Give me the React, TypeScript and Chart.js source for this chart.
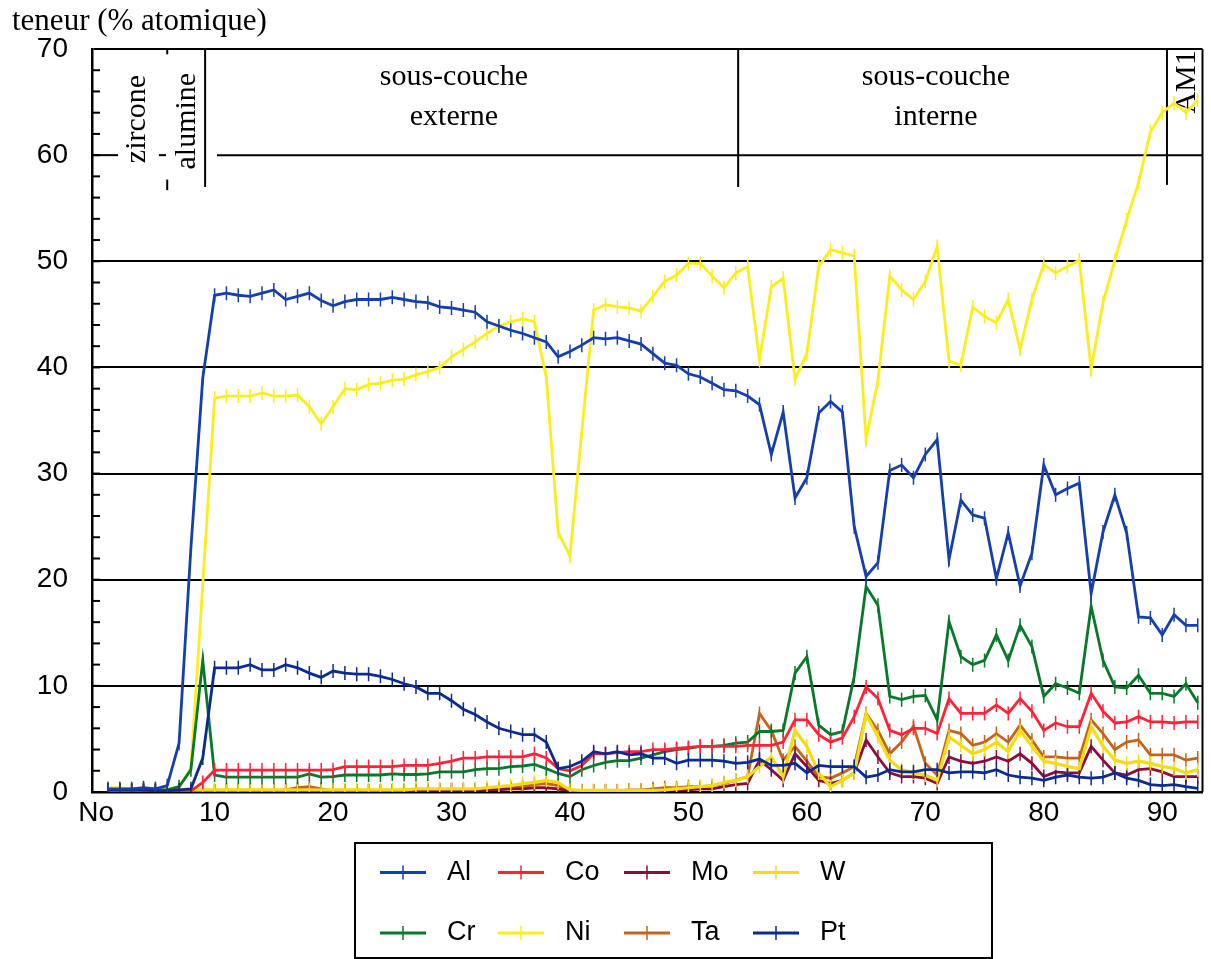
import React, { useEffect, useRef } from "react";
import { Chart, registerables } from "chart.js";

Chart.register(...registerables);

// point numbers along the profile (No)
const pointNo = Array.from({ length: 93 }, (_, i) => i + 1);
const xTickValues = [0, 10, 20, 30, 40, 50, 60, 70, 80, 90];
const yTickValues = [0, 10, 20, 30, 40, 50, 60, 70];

const al = [
  0.3, 0.3, 0.3, 0.4, 0.3, 0.6, 4.6, 23, 39, 46.8,
  47.0, 46.8, 46.7, 47.0, 47.3, 46.4, 46.7, 47.0, 46.3, 45.8,
  46.2, 46.4, 46.4, 46.4, 46.6, 46.4, 46.2, 46.1, 45.7, 45.6,
  45.4, 45.2, 44.3, 43.9, 43.5, 43.2, 42.8, 42.4, 41.0, 41.5,
  42.1, 42.8, 42.7, 42.8, 42.5, 42.2, 41.3, 40.4, 40.2, 39.4,
  39.1, 38.5, 37.9, 37.8, 37.3, 36.5, 31.8, 35.8, 27.7, 29.6,
  35.7, 36.8, 35.8, 25.0, 20.3, 21.6, 30.3, 30.8, 29.6, 31.8,
  33.2, 21.9, 27.5, 26.1, 25.8, 20.1, 24.4, 19.4, 22.5, 30.8,
  28.0, 28.6, 29.1, 18.7, 24.5, 28.0, 24.4, 16.5, 16.4, 14.8,
  16.7, 15.7, 15.7,
];
const pt = [
  0.2, 0.2, 0.2, 0.2, 0.1, 0.1, 0.2, 0.3, 3.2, 11.7,
  11.7, 11.7, 12.0, 11.5, 11.5, 12.0, 11.7, 11.2, 10.8, 11.4,
  11.2, 11.1, 11.1, 10.9, 10.6, 10.2, 9.9, 9.3, 9.3, 8.6,
  7.8, 7.3, 6.6, 6.0, 5.7, 5.4, 5.4, 4.7, 2.2, 2.4,
  2.9, 3.8, 3.6, 3.8, 3.5, 3.6, 3.2, 3.2, 2.7, 3.0,
  3.0, 3.0, 2.9, 2.7, 2.8, 3.1, 2.5, 2.5, 2.7, 1.8,
  2.5, 2.4, 2.4, 2.4, 1.4, 1.6, 2.1, 1.9, 1.9, 2.1,
  2.1, 1.8, 1.9, 1.9, 1.8, 2.1, 1.6, 1.4, 1.3, 1.1,
  1.4, 1.6, 1.4, 1.3, 1.4, 1.8, 1.3, 1.1, 0.7, 0.6,
  0.7, 0.5, 0.35,
];
const ni = [
  0.4, 0.4, 0.3, 0.3, 0.3, 0.3, 0.4, 2.3, 19.5, 37.1,
  37.3, 37.3, 37.3, 37.6, 37.3, 37.3, 37.4, 36.3, 34.7, 36.3,
  38.0, 37.9, 38.4, 38.5, 38.8, 38.9, 39.3, 39.6, 40.0, 41.0,
  41.7, 42.4, 43.2, 43.9, 44.3, 44.6, 44.3, 39.1, 24.5, 22.2,
  34.0, 45.4, 45.9, 45.7, 45.6, 45.3, 46.7, 48.1, 48.7, 49.8,
  49.8, 48.6, 47.5, 48.9, 49.5, 40.7, 47.6, 48.4, 38.9, 41.3,
  49.5, 51.1, 50.8, 50.5, 33.2, 38.8, 48.6, 47.3, 46.4, 48.1,
  51.4, 40.6, 40.2, 45.7, 44.8, 44.2, 46.4, 41.7, 46.4, 49.7,
  48.9, 49.5, 50.1, 39.8, 46.1, 50.1, 53.9, 57.4, 62.2, 64.0,
  64.9, 64.0, 65.2,
];
const cr = [
  0.2, 0.2, 0.2, 0.2, 0.2, 0.2, 0.5, 2.1, 12.4, 1.6,
  1.4, 1.4, 1.4, 1.4, 1.4, 1.4, 1.4, 1.7, 1.4, 1.45,
  1.6, 1.6, 1.6, 1.6, 1.7, 1.65, 1.65, 1.7, 1.9, 1.9,
  1.9, 2.1, 2.2, 2.2, 2.4, 2.45, 2.6, 2.2, 1.75, 1.45,
  2.1, 2.5, 2.8, 2.95, 2.95, 3.2, 3.5, 3.8, 4.0, 4.1,
  4.3, 4.3, 4.4, 4.6, 4.7, 5.7, 5.7, 5.8, 11.2, 12.75,
  6.3, 5.4, 5.7, 10.9, 19.35, 17.6, 9.0, 8.7, 9.0, 9.1,
  6.8, 16.05, 12.75, 12.0, 12.4, 14.8, 12.4, 15.7, 13.7, 9.0,
  10.2, 9.8, 9.3, 17.5, 12.4, 9.9, 9.8, 11.0, 9.3, 9.3,
  9.0, 10.2, 8.4,
];
const co = [
  0.05, 0.05, 0.05, 0.05, 0.05, 0.05, 0.05, 0.1, 0.9, 2.07,
  2.07, 2.07, 2.07, 2.07, 2.07, 2.07, 2.07, 2.07, 2.07, 2.1,
  2.4, 2.4, 2.4, 2.4, 2.4, 2.5, 2.5, 2.5, 2.7, 2.9,
  3.2, 3.2, 3.3, 3.3, 3.3, 3.3, 3.6, 3.2, 2.2, 2.0,
  2.5, 3.6, 3.6, 3.7, 3.8, 3.8, 4.0, 4.0, 4.1, 4.2,
  4.3, 4.3, 4.3, 4.3, 4.4, 4.4, 4.4, 4.7, 6.8, 6.8,
  5.4, 4.7, 5.1, 7.1, 9.9, 8.8, 5.8, 5.4, 6.0, 6.0,
  5.5, 8.8, 7.4, 7.4, 7.4, 8.2, 7.4, 8.8, 7.6, 5.8,
  6.5, 6.15, 6.15, 9.3, 7.6, 6.5, 6.6, 7.1, 6.6, 6.6,
  6.5, 6.6, 6.6,
];
const ta = [
  0.1, 0.1, 0.1, 0.1, 0.1, 0.1, 0.1, 0.1, 0.1, 0.1,
  0.1, 0.1, 0.1, 0.1, 0.1, 0.2, 0.4, 0.5, 0.3, 0.1,
  0.1, 0.1, 0.1, 0.1, 0.1, 0.2, 0.2, 0.2, 0.2, 0.2,
  0.2, 0.2, 0.2, 0.3, 0.4, 0.5, 0.7, 0.8, 0.6, 0.2,
  0.1, 0.1, 0.1, 0.1, 0.2, 0.2, 0.3, 0.4, 0.4, 0.5,
  0.5, 0.6, 0.8, 1.1, 1.45, 7.4, 5.8, 3.0, 4.3, 2.9,
  1.45, 1.3, 1.8, 2.4, 7.4, 5.8, 3.6, 4.7, 6.2, 2.7,
  1.6, 5.8, 5.5, 4.4, 4.7, 5.5, 4.7, 6.3, 4.9, 3.3,
  3.3, 3.2, 3.2, 6.8, 5.5, 4.0, 4.7, 4.9, 3.5, 3.5,
  3.5, 3.0, 3.2,
];
const w = [
  0.2, 0.2, 0.2, 0.2, 0.2, 0.2, 0.2, 0.2, 0.2, 0.2,
  0.2, 0.2, 0.2, 0.2, 0.2, 0.2, 0.2, 0.2, 0.2, 0.2,
  0.2, 0.2, 0.2, 0.2, 0.2, 0.2, 0.3, 0.3, 0.3, 0.3,
  0.3, 0.3, 0.4, 0.5, 0.6, 0.8, 0.9, 1.1, 0.9, 0.2,
  0.15, 0.15, 0.15, 0.15, 0.15, 0.15, 0.15, 0.2, 0.3, 0.4,
  0.5, 0.6, 0.9, 1.1, 1.45, 2.4, 3.3, 1.45, 5.8, 4.3,
  1.8, 0.5, 1.1, 1.8, 7.3, 5.2, 3.0, 2.1, 1.8, 1.6,
  1.1, 5.2, 4.4, 3.6, 4.0, 4.7, 3.8, 5.8, 4.3, 2.9,
  2.7, 2.4, 2.2, 6.15, 4.3, 3.0, 2.7, 2.9, 2.7, 2.4,
  2.2, 1.8, 2.1,
];
const mo = [
  0.1, 0.1, 0.1, 0.1, 0.1, 0.1, 0.1, 0.1, 0.1, 0.1,
  0.1, 0.1, 0.1, 0.1, 0.1, 0.1, 0.2, 0.2, 0.2, 0.1,
  0.1, 0.1, 0.1, 0.1, 0.1, 0.1, 0.1, 0.2, 0.2, 0.2,
  0.2, 0.2, 0.2, 0.2, 0.3, 0.3, 0.4, 0.4, 0.3, 0.1,
  0.1, 0.1, 0.1, 0.1, 0.1, 0.1, 0.2, 0.2, 0.2, 0.2,
  0.3, 0.3, 0.5, 0.7, 0.8, 3.0, 2.1, 1.1, 3.6, 2.4,
  1.1, 0.8, 1.1, 1.8, 4.9, 3.3, 1.8, 1.45, 1.45, 1.3,
  0.8, 3.3, 2.9, 2.7, 2.9, 3.3, 2.9, 3.6, 2.7, 1.45,
  1.9, 1.8, 1.8, 4.3, 3.0, 1.8, 1.6, 2.1, 2.2, 1.9,
  1.45, 1.45, 1.45,
];

// drawing order: first one ends up on top
const series = [
  { label: "Al", data: al, color: "#163fae", width: 2.8 },
  { label: "Pt", data: pt, color: "#0b2b8f", width: 2.8 },
  { label: "Co", data: co, color: "#ff2238", width: 2.8 },
  { label: "Cr", data: cr, color: "#08782a", width: 2.8 },
  { label: "W", data: w, color: "#f3dc12", width: 3.2 },
  { label: "Mo", data: mo, color: "#8c0c3c", width: 2.8 },
  { label: "Ta", data: ta, color: "#c2651a", width: 2.8 },
  { label: "Ni", data: ni, color: "#fbee1e", width: 2.8 },
];

const legendRows = [
  ["Al", "Co", "Mo", "W"],
  ["Cr", "Ni", "Ta", "Pt"],
];

// layer boundaries (x = point number, drawn down to y)
const layerLines = [
  { x: 9.2, bottom: 57 },
  { x: 54.2, bottom: 57 },
  { x: 90.4, bottom: 57.2 },
];
const layerTitles = [
  { lines: ["sous-couche", "externe"], x: 30.2, y: [66.6, 62.8] },
  { lines: ["sous-couche", "interne"], x: 70.9, y: [66.6, 62.8] },
];
const rotatedTitles = [
  { text: "zircone", x: 4.1, y: 63.4 },
  { text: "alumine", x: 8.35, y: 63.2 },
  { text: "AM1", x: 92.8, y: 66.9 },
];
const line60Gaps = [
  [1.85, 5.3],
  [5.9, 10.2],
];
const dashMarkX = 6.0;
const dashMarkSegments = [
  [69.5, 70],
  [56.7, 57.7],
];

const serif = "'Liberation Serif', 'Times New Roman', serif";
const sans = "'Liberation Sans', Arial, sans-serif";

const layersPlugin = {
  id: "layers",
  beforeDatasetsDraw(chart: any) {
    const { ctx, chartArea } = chart;
    const xs = chart.scales.x;
    const ys = chart.scales.y;
    const px = (v: number) => xs.getPixelForValue(v);
    const py = (v: number) => ys.getPixelForValue(v);
    ctx.save();
    ctx.strokeStyle = "#000";
    ctx.lineWidth = 2;

    // right frame
    ctx.beginPath();
    ctx.moveTo(chartArea.right, chartArea.top);
    ctx.lineTo(chartArea.right, chartArea.bottom);
    ctx.stroke();

    // 60 % line, broken round the left labels
    let start = xs.min;
    const parts: number[][] = [];
    for (const [a, b] of line60Gaps) {
      parts.push([start, a]);
      start = b;
    }
    parts.push([start, xs.max]);
    for (const [a, b] of parts) {
      ctx.beginPath();
      ctx.moveTo(px(a), py(60));
      ctx.lineTo(px(b), py(60));
      ctx.stroke();
    }

    // minor ticks on the left axis
    for (let v = 2; v < 70; v += 2) {
      ctx.beginPath();
      ctx.moveTo(chartArea.left, py(v));
      ctx.lineTo(chartArea.left + 8, py(v));
      ctx.stroke();
    }

    // layer boundaries
    for (const l of layerLines) {
      ctx.beginPath();
      ctx.moveTo(px(l.x), chartArea.top);
      ctx.lineTo(px(l.x), py(l.bottom));
      ctx.stroke();
    }
    for (const [a, b] of dashMarkSegments) {
      ctx.beginPath();
      ctx.moveTo(px(dashMarkX), py(a));
      ctx.lineTo(px(dashMarkX), py(b));
      ctx.stroke();
    }

    // layer names
    ctx.fillStyle = "#000";
    ctx.font = `30px ${serif}`;
    ctx.textAlign = "center";
    ctx.textBaseline = "alphabetic";
    for (const t of layerTitles) {
      t.lines.forEach((s, i) => ctx.fillText(s, px(t.x), py(t.y[i])));
    }
    for (const t of rotatedTitles) {
      ctx.save();
      ctx.translate(px(t.x), py(t.y));
      ctx.rotate(-Math.PI / 2);
      ctx.fillText(t.text, 0, 0);
      ctx.restore();
    }
    ctx.restore();
  },
  afterDraw(chart: any) {
    const { ctx } = chart;
    const box = { left: 355, top: 843, right: 992, bottom: 958 };
    const cols = [25, 143, 269, 398];
    const rows = [29.5, 90];
    ctx.save();
    ctx.strokeStyle = "#000";
    ctx.lineWidth = 2;
    ctx.strokeRect(box.left, box.top, box.right - box.left, box.bottom - box.top);
    ctx.font = `27px ${sans}`;
    ctx.textAlign = "left";
    ctx.textBaseline = "middle";
    ctx.fillStyle = "#000";
    legendRows.forEach((row, r) => {
      row.forEach((name, c) => {
        const s = series.find((d) => d.label === name)!;
        const x0 = box.left + cols[c];
        const y0 = box.top + rows[r];
        ctx.strokeStyle = s.color;
        ctx.lineWidth = 3;
        ctx.beginPath();
        ctx.moveTo(x0, y0);
        ctx.lineTo(x0 + 46, y0);
        ctx.stroke();
        ctx.lineWidth = 1.5;
        ctx.beginPath();
        ctx.moveTo(x0 + 23, y0 - 7);
        ctx.lineTo(x0 + 23, y0 + 7);
        ctx.stroke();
        ctx.fillText(name, x0 + 67, y0);
      });
    });
    ctx.restore();
  },
};

const App: React.FC = () => {
  const canvasRef = useRef<HTMLCanvasElement>(null);

  useEffect(() => {
    const canvas = canvasRef.current;
    if (!canvas) return;

    const chart = new Chart(canvas, {
      type: "line",
      data: {
        labels: pointNo,
        datasets: series.map((s) => ({
          label: s.label,
          data: s.data,
          borderColor: s.color,
          backgroundColor: s.color,
          borderWidth: s.width,
          pointStyle: "line",
          pointRotation: 90,
          pointRadius: 7,
          pointBorderWidth: 1.5,
          pointBorderColor: s.color,
          tension: 0,
          fill: false,
        })),
      },
      options: {
        animation: false,
        responsive: true,
        maintainAspectRatio: false,
        events: [],
        layout: { padding: { left: 12, right: 6, top: 0, bottom: 127 } },
        plugins: {
          legend: { display: false },
          tooltip: { enabled: false },
          title: {
            display: true,
            text: "teneur (% atomique)",
            align: "start",
            color: "#000",
            font: { family: serif, size: 31, weight: "normal" },
            padding: { top: 3, bottom: 8.8 },
          },
        },
        scales: {
          x: {
            type: "linear",
            min: -0.35,
            max: 93.4,
            afterBuildTicks: (axis: any) => {
              axis.ticks = xTickValues.map((v) => ({ value: v }));
            },
            afterFit: (axis: any) => {
              axis.height = 40;
            },
            grid: { display: false, drawTicks: false },
            border: { display: true, color: "#000", width: 2.5 },
            ticks: {
              padding: 4,
              color: "#000",
              maxRotation: 0,
              autoSkip: false,
              font: { family: sans, size: 28 },
              callback: (v: any) => (v === 0 ? "No" : String(v)),
            },
          },
          y: {
            min: 0,
            max: 70,
            afterBuildTicks: (axis: any) => {
              axis.ticks = yTickValues.map((v) => ({ value: v }));
            },
            afterFit: (axis: any) => {
              axis.width = 80;
            },
            grid: {
              drawTicks: false,
              lineWidth: 2,
              color: (c: any) => (c.tick && c.tick.value === 60 ? "rgba(0,0,0,0)" : "#000"),
            },
            border: { display: true, color: "#000", width: 2.5 },
            ticks: {
              padding: 24,
              color: "#000",
              font: { family: sans, size: 28 },
            },
          },
        },
      },
      plugins: [layersPlugin],
    });

    return () => {
      chart.destroy();
    };
  }, []);

  return (
    <div style={{ position: "absolute", left: 0, top: 0, width: 1211, height: 959, background: "#fff" }}>
      <canvas ref={canvasRef}></canvas>
    </div>
  );
};

export default App;
